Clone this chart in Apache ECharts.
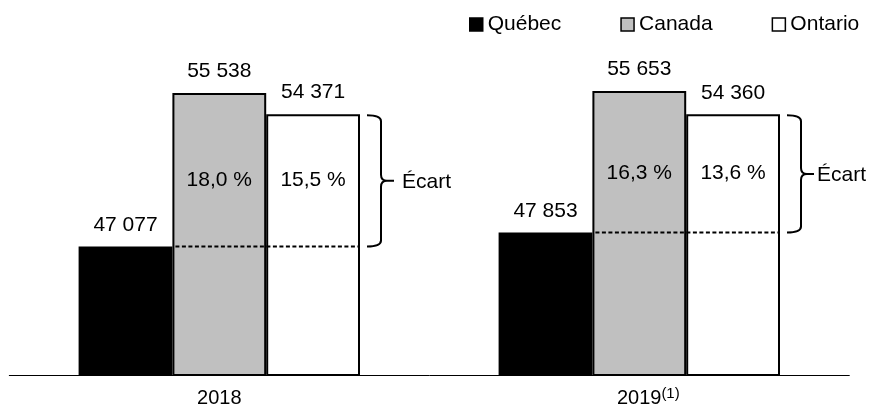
<!DOCTYPE html>
<html>
<head>
<meta charset="utf-8">
<script src="https://cdn.jsdelivr.net/npm/echarts@6/dist/echarts.min.js"></script>
<style>
  html, body { margin: 0; padding: 0; background: #fff; }
  #chart { width: 872px; height: 408px; }
</style>
</head>
<body>
<div id="chart"></div>
<script>
// data
const years = ['2018', '2019'];
const yearNotes = ['', '(1)'];
const quebec = [47077, 47853];
const canada = [55538, 55653];
const ontario = [54371, 54360];
const ecartCanada = [18.0, 16.3];
const ecartOntario = [15.5, 13.6];

const FONT = 'Liberation Sans';
const FS = 21;
const GAP = 0.33;

function fmtNum(v) {
  return String(v).replace(/\B(?=(\d{3})+(?!\d))/g, ' ');
}
function fmtPct(v) {
  return v.toFixed(1).replace('.', ',') + ' %';
}

const valueLabel = {
  show: true,
  position: 'top',
  distance: 11,
  color: '#000',
  fontFamily: FONT,
  fontSize: FS,
  formatter: p => fmtNum(p.value)
};

function renderEcart(params, api) {
  const i = api.value(0);
  const base = api.coord([i, api.value(1)]);
  const yQ = base[1];
  const yO = api.coord([i, api.value(2)])[1];
  const cx = base[0];
  const barW = api.size([1, 0])[0] * (1 - GAP) / 3;
  const xL = cx - barW / 2 + 3;
  const xR = cx + barW * 1.5;
  const x0 = xR + 7, x1 = xR + 21, xTip = xR + 34;
  const yT = yO + 1, yB = yQ, yM = (yT + yB) / 2;
  const r = 6;
  const brace =
    'M' + x0 + ' ' + yT +
    ' Q' + x1 + ' ' + yT + ' ' + x1 + ' ' + (yT + r) +
    ' L' + x1 + ' ' + (yM - r) +
    ' Q' + x1 + ' ' + yM + ' ' + (x1 + r) + ' ' + yM +
    ' L' + xTip + ' ' + yM +
    ' M' + (x1 + r) + ' ' + yM +
    ' Q' + x1 + ' ' + yM + ' ' + x1 + ' ' + (yM + r) +
    ' L' + x1 + ' ' + (yB - r) +
    ' Q' + x1 + ' ' + yB + ' ' + x0 + ' ' + yB;
  const txtStyle = { fill: '#000', fontFamily: FONT, fontSize: FS, textAlign: 'center', textVerticalAlign: 'middle' };
  return {
    type: 'group',
    children: [
      {
        type: 'line',
        shape: { x1: xL, y1: yQ, x2: xR - 2, y2: yQ },
        style: { stroke: '#000', lineWidth: 2, lineDash: [4, 2.5] }
      },
      {
        type: 'path',
        shape: { pathData: brace },
        style: { stroke: '#000', fill: 'none', lineWidth: 2 }
      },
      {
        type: 'text',
        style: Object.assign({}, txtStyle, { text: fmtPct(api.value(3)), x: cx, y: (yO + yQ) / 2 })
      },
      {
        type: 'text',
        style: Object.assign({}, txtStyle, { text: fmtPct(api.value(4)), x: cx + barW, y: (yO + yQ) / 2 })
      },
      {
        type: 'text',
        style: Object.assign({}, txtStyle, {
          text: 'Écart', textAlign: 'left', x: xTip + (i === 0 ? 8 : 3), y: yM + 1
        })
      }
    ]
  };
}

const chart = echarts.init(document.getElementById('chart'));
chart.setOption({
  animation: false,
  backgroundColor: '#fff',
  textStyle: { fontFamily: FONT },
  legend: {
    data: ['Québec', 'Canada', 'Ontario'],
    left: 469,
    top: 14,
    padding: 0,
    itemWidth: 13,
    itemHeight: 13,
    itemGap: 59,
    icon: 'rect',
    itemStyle: { borderWidth: 1.5, borderColor: '#000' },
    textStyle: { color: '#000', fontFamily: FONT, fontSize: FS }
  },
  grid: { left: 9.3, right: 22.7, top: 12, bottom: 33 },
  xAxis: {
    type: 'category',
    data: years,
    axisTick: { show: false },
    axisLine: { lineStyle: { color: '#000', width: 1 } },
    axisLabel: {
      margin: 11,
      color: '#000',
      fontFamily: FONT,
      fontSize: 20,
      formatter: (v, i) => yearNotes[i] ? '{pad| }{y|' + v + '}{sup|' + yearNotes[i] + '}' : '{y|' + v + '}',
      rich: {
        y: { fontFamily: FONT, fontSize: 20, lineHeight: 24, color: '#000' },
        pad: { width: 18, fontSize: 15, lineHeight: 15 },
        sup: { fontFamily: FONT, fontSize: 15, lineHeight: 15, color: '#000', verticalAlign: 'top' }
      }
    }
  },
  yAxis: {
    type: 'value',
    min: 40000,
    max: 60000,
    show: false,
    splitLine: { show: false }
  },
  series: [
    {
      name: 'Québec',
      type: 'bar',
      data: quebec,
      barGap: '0%',
      barCategoryGap: '33%',
      itemStyle: { color: '#000', borderColor: '#000', borderWidth: 0 },
      label: valueLabel
    },
    {
      name: 'Canada',
      type: 'bar',
      data: canada,
      barGap: '0%',
      barCategoryGap: '33%',
      itemStyle: { color: '#c0c0c0', borderColor: '#000', borderWidth: 2 },
      label: valueLabel
    },
    {
      name: 'Ontario',
      type: 'bar',
      data: ontario,
      barGap: '0%',
      barCategoryGap: '33%',
      itemStyle: { color: '#fff', borderColor: '#000', borderWidth: 2 },
      label: valueLabel
    },
    {
      type: 'custom',
      silent: true,
      clip: false,
      z: 10,
      renderItem: renderEcart,
      data: years.map((y, i) => [i, quebec[i], ontario[i], ecartCanada[i], ecartOntario[i]])
    }
  ]
});
</script>
</body>
</html>
